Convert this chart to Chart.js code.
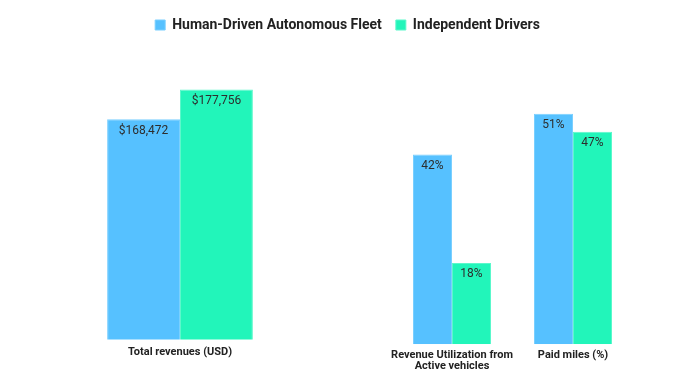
<!DOCTYPE html>
<html>
<head>
<meta charset="utf-8">
<script src="https://cdn.jsdelivr.net/npm/chart.js@4"></script>
<style>
  html, body { margin: 0; padding: 0; background: #ffffff; }
  #wrap { position: relative; width: 700px; height: 380px; }
  #wrap canvas { position: absolute; left: 0; top: 0; }
</style>
</head>
<body>
<div id="wrap">
  <canvas id="left" width="700" height="380"></canvas>
  <canvas id="right" width="700" height="380"></canvas>
</div>
<script>
// ---- data ----
const seriesNames = ['Human-Driven Autonomous Fleet', 'Independent Drivers'];
const revenueCategories = ['Total revenues (USD)'];
const revenueHuman = [168472];
const revenueIndependent = [177756];
const pctCategories = [['Revenue Utilization from', 'Active vehicles'], 'Paid miles (%)'];
const pctHuman = [42, 51];
const pctIndependent = [18, 47];

// ---- styles ----
const BLUE = '#56C1FF';
const GREEN = '#22F5BA';
const BORDER_BLUE = '#7ACFFF';
const BORDER_GREEN = '#5CF8CB';

Chart.defaults.font.family = 'Roboto, "Noto Sans", sans-serif';
Chart.defaults.animation = false;

const valueLabels = {
  id: 'valueLabels',
  afterDatasetsDraw(chart, args, opts) {
    const ctx = chart.ctx;
    ctx.save();
    ctx.font = '12px Roboto, "Noto Sans", sans-serif';
    ctx.fillStyle = '#2d2d2d';
    ctx.textAlign = 'center';
    ctx.textBaseline = 'middle';
    chart.data.datasets.forEach((ds, i) => {
      const meta = chart.getDatasetMeta(i);
      meta.data.forEach((el, j) => {
        const v = ds.data[j];
        if (v == null) return;
        ctx.fillText(opts.format(v), el.x, el.y + 11.5);
      });
    });
    ctx.restore();
  }
};

function fixedWidth(w) { return function (scale) { scale.width = w; }; }
function fixedHeight(h) { return function (scale) { scale.height = h; }; }

const barDefaults = {
  borderWidth: 1,
  barPercentage: 1.0,
  categoryPercentage: 0.645,
  borderSkipped: 'bottom'
};

const hiddenAxis = {
  display: true,
  grid: { display: false, drawTicks: false },
  border: { display: false },
  ticks: { display: false }
};

const xTicks = {
  color: '#222222',
  font: { size: 11, weight: 'bold', lineHeight: 1 },
  autoSkip: false,
  maxRotation: 0
};

// ---- left chart: total revenues ----
new Chart(document.getElementById('left'), {
  type: 'bar',
  data: {
    labels: revenueCategories,
    datasets: [
      Object.assign({ label: seriesNames[0], data: revenueHuman, backgroundColor: BLUE, borderColor: BORDER_BLUE }, barDefaults),
      Object.assign({ label: seriesNames[1], data: revenueIndependent, backgroundColor: GREEN, borderColor: BORDER_GREEN }, barDefaults)
    ]
  },
  options: {
    responsive: false,
    layout: { padding: { top: 4, left: 0, right: 5, bottom: 0 } },
    plugins: {
      legend: {
        display: true,
        position: 'top',
        align: 'center',
        labels: {
          boxWidth: 10,
          boxHeight: 10,
          padding: 14,
          color: '#222222',
          font: { size: 14, weight: 'bold' }
        }
      },
      tooltip: { enabled: false },
      valueLabels: { format: v => '$' + v.toLocaleString('en-US') }
    },
    scales: {
      x: {
        grid: { display: false, drawTicks: false },
        border: { display: false },
        ticks: Object.assign({ padding: 7 }, xTicks),
        afterFit: fixedHeight(40.5)
      },
      y: Object.assign({}, hiddenAxis, { position: 'left', min: 100000, max: 192500, afterFit: fixedWidth(67) }),
      y2: Object.assign({}, hiddenAxis, { position: 'right', min: 0, max: 1, afterFit: fixedWidth(402) })
    }
  },
  plugins: [valueLabels]
});

// ---- right chart: percentages ----
new Chart(document.getElementById('right'), {
  type: 'bar',
  data: {
    labels: pctCategories,
    datasets: [
      Object.assign({ label: seriesNames[0], data: pctHuman, backgroundColor: BLUE, borderColor: BORDER_BLUE }, barDefaults),
      Object.assign({ label: seriesNames[1], data: pctIndependent, backgroundColor: GREEN, borderColor: BORDER_GREEN }, barDefaults)
    ]
  },
  options: {
    responsive: false,
    layout: { padding: { left: 391.5, right: 66.5, top: 73, bottom: 0 } },
    plugins: {
      legend: { display: false },
      tooltip: { enabled: false },
      valueLabels: { format: v => v + '%' }
    },
    scales: {
      x: {
        grid: { display: false, drawTicks: false },
        border: { display: false },
        ticks: Object.assign({ padding: 5 }, xTicks),
        afterFit: fixedHeight(35.7)
      },
      y: Object.assign({}, hiddenAxis, { min: 0, max: 60, afterFit: fixedWidth(0) })
    }
  },
  plugins: [valueLabels]
});
</script>
</body>
</html>
